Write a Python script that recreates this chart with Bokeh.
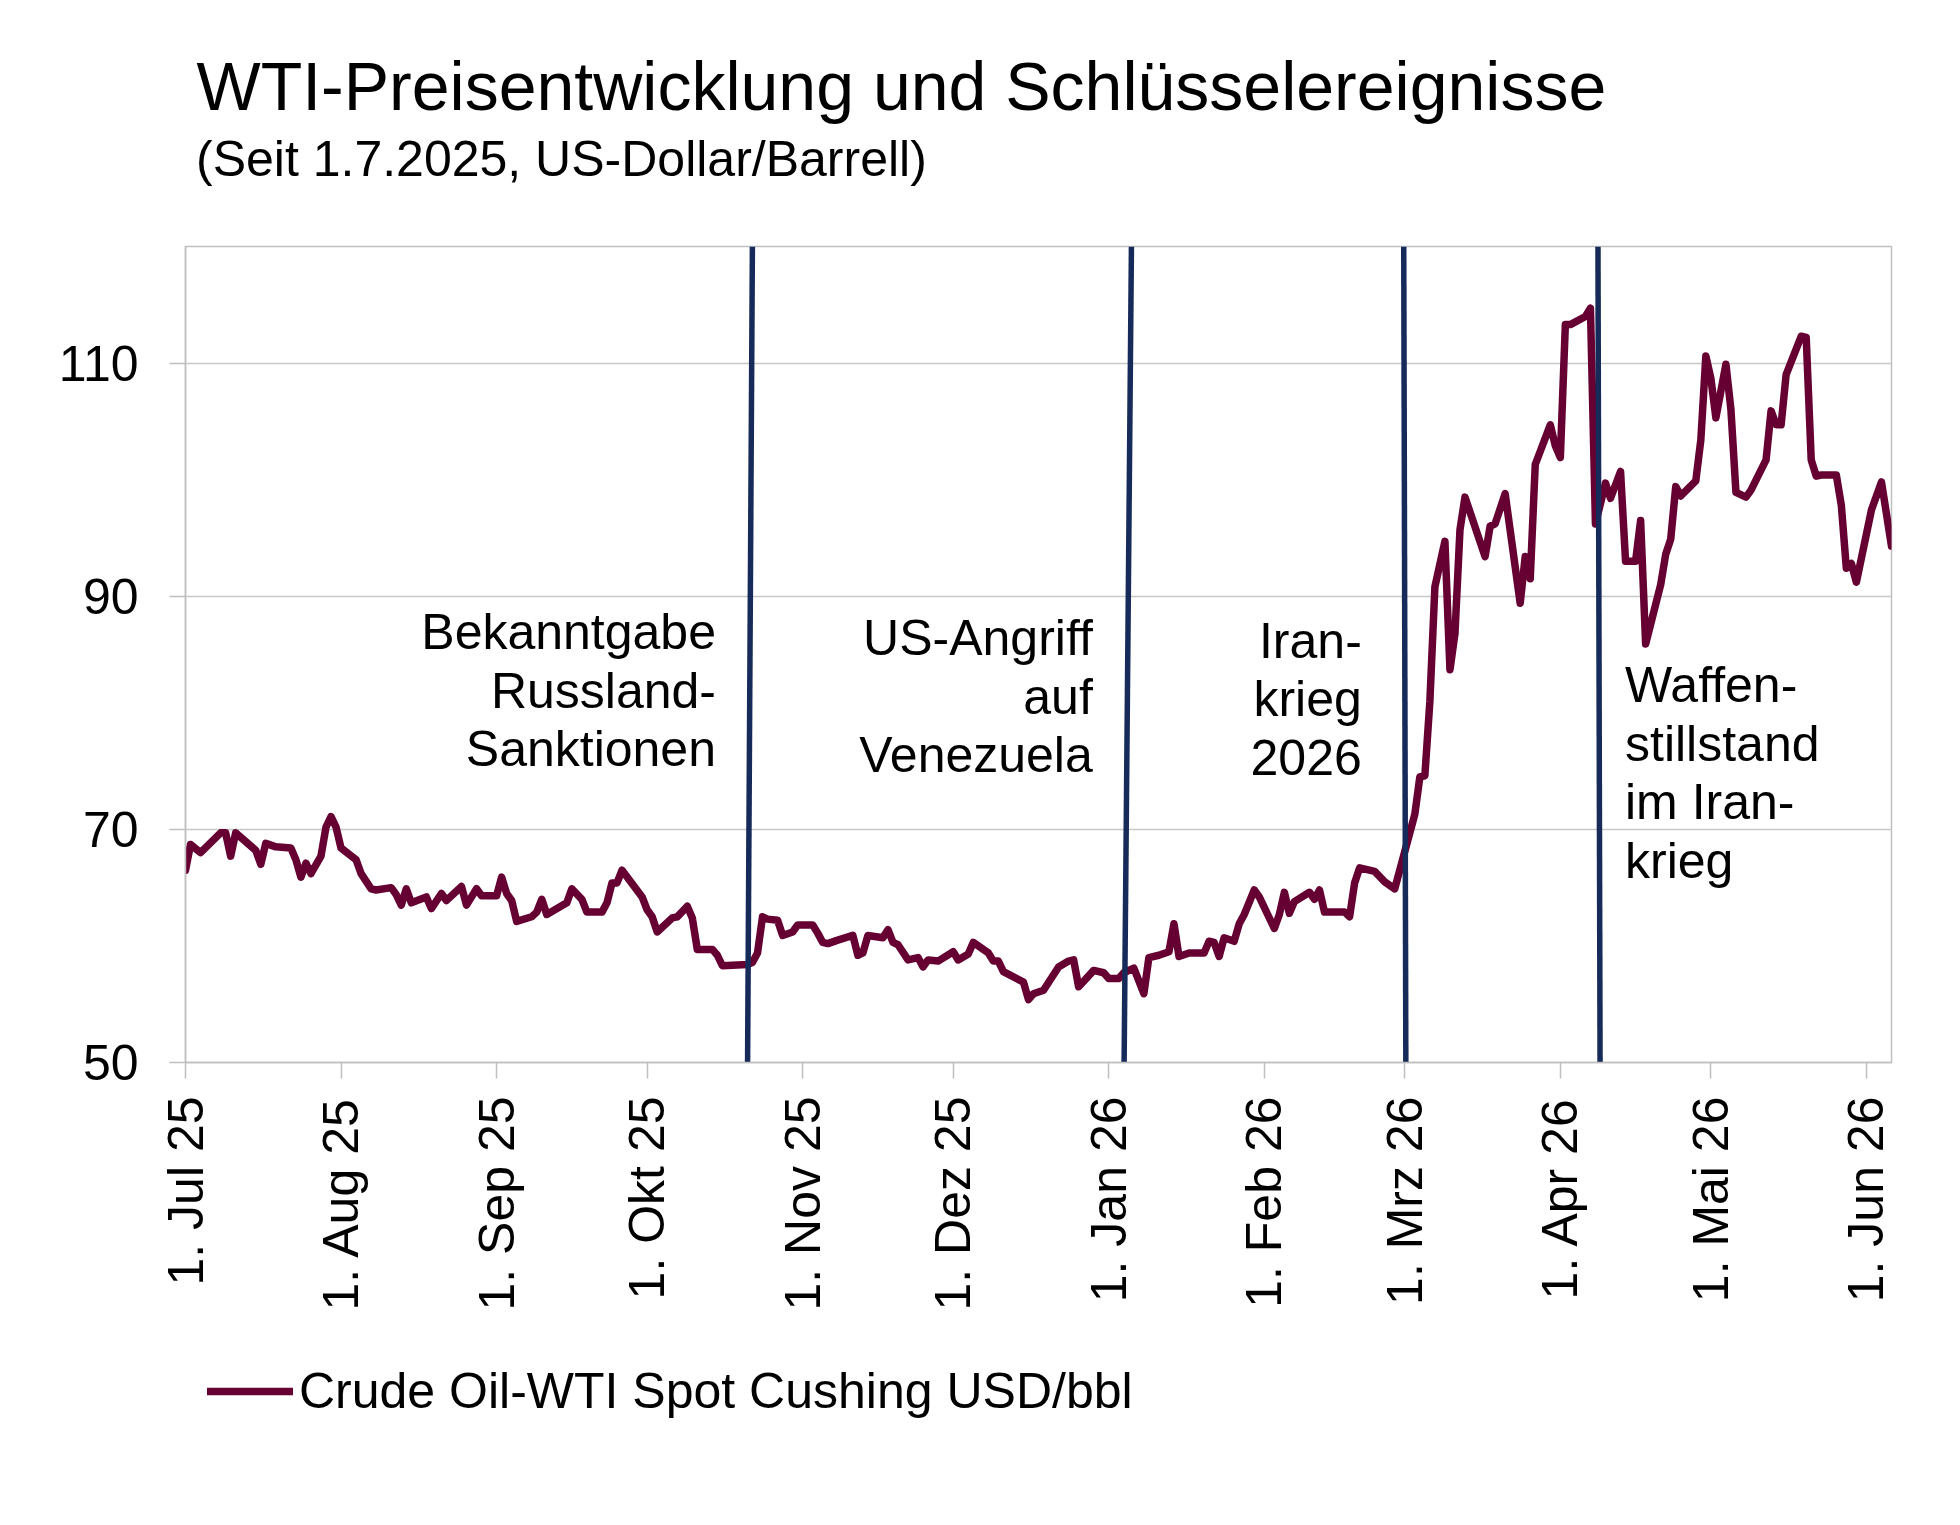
import datetime as dt
import math

from bokeh.embed import file_html
from bokeh.layouts import column
from bokeh.models import (ColumnDataSource, FixedTicker, Label, Legend,
                          LegendItem, Range1d, Title)
from bokeh.plotting import figure
from bokeh.resources import INLINE

# --- data -------------------------------------------------------------------
START = dt.datetime(2025, 7, 1)

# trading days, counted in calendar days since 1.7.2025
days_since_start = [
    0, 1, 3, 7, 8, 9, 10, 14, 15, 16, 18, 21, 22, 23, 24, 25, 27, 28, 29, 30,
    31, 34, 35, 37, 38, 41, 42, 43, 44, 45, 48, 49, 51, 52, 55, 56, 58, 59, 62, 63,
    64, 65, 66, 69, 70, 71, 72, 76, 77, 79, 80, 83, 84, 85, 86, 87, 91, 92, 93, 94,
    97, 98, 100, 101, 102, 105, 106, 107, 112, 113, 114, 115, 116, 118, 119, 121, 122, 125, 126, 127,
    128, 130, 133, 134, 135, 136, 139, 140, 141, 142, 144, 146, 147, 148, 150, 153, 154, 156, 157, 160,
    161, 162, 163, 167, 168, 169, 171, 174, 176, 177, 178, 181, 183, 184, 186, 187, 189, 191, 192, 194,
    196, 197, 198, 200, 203, 204, 205, 206, 207, 209, 210, 211, 213, 214, 217, 218, 219, 220, 221, 224,
    225, 226, 227, 231, 232, 233, 234, 237, 239, 241, 245, 246, 247, 248, 249, 251, 252, 253, 254, 255,
    259, 260, 261, 263, 266, 267, 268, 269, 272, 273, 274, 275, 276, 279, 280, 281, 283, 284, 286, 287,
    289, 290, 291, 294, 295, 296, 297, 298, 301, 302, 303, 304, 305, 307, 308, 309, 311, 312, 315, 316,
    317, 318, 319, 322, 323, 324, 325, 326, 329, 330, 331, 332, 333, 336, 338, 340,
]

# Crude Oil-WTI Spot Cushing, USD/bbl
wti_price = [
    66.5, 68.7, 68.0, 69.7, 69.7, 67.7, 69.7, 68.2, 67.0, 68.8, 68.5, 68.4, 67.4, 65.9, 67.1, 66.2, 67.7, 70.2, 71.1, 70.2,
    68.4, 67.4, 66.2, 64.9, 64.8, 65.0, 64.4, 63.5, 64.9, 63.7, 64.2, 63.2, 64.5, 63.9, 65.1, 63.5, 64.9, 64.3, 64.3, 65.9,
    64.5, 63.9, 62.1, 62.5, 62.9, 64.0, 62.7, 63.7, 64.9, 64.0, 62.9, 62.9, 63.7, 65.4, 65.4, 66.5, 64.2, 63.1, 62.5, 61.2,
    62.4, 62.5, 63.4, 62.4, 59.7, 59.7, 59.2, 58.3, 58.4, 58.6, 59.4, 62.5, 62.3, 62.2, 60.9, 61.2, 61.8, 61.8, 61.1, 60.3,
    60.2, 60.5, 60.9, 59.2, 59.4, 60.9, 60.7, 61.4, 60.3, 60.1, 58.8, 59.0, 58.2, 58.8, 58.7, 59.5, 58.8, 59.3, 60.3, 59.4,
    58.7, 58.7, 57.8, 56.9, 55.4, 55.9, 56.2, 58.2, 58.7, 58.8, 56.5, 57.9, 57.7, 57.2, 57.2, 57.7, 58.1, 55.9, 59.0, 59.2,
    59.5, 61.9, 59.1, 59.4, 59.4, 60.4, 60.3, 59.1, 60.7, 60.4, 61.9, 62.7, 64.8, 64.2, 61.5, 62.7, 64.6, 62.8, 63.8, 64.6,
    64.0, 64.8, 62.9, 62.9, 62.5, 65.4, 66.7, 66.4, 65.5, 64.9, 71.3, 74.5, 74.6, 81.0, 90.8, 94.7, 83.7, 86.8, 95.7, 98.5,
    93.4, 96.0, 96.2, 98.8, 89.4, 93.4, 91.5, 101.3, 104.7, 102.9, 101.9, 113.3, 113.3, 114.0, 114.7, 96.2, 99.7, 98.4, 100.7, 93.0,
    93.0, 96.5, 85.9, 91.0, 93.6, 94.9, 99.4, 98.6, 99.9, 103.4, 110.6, 108.7, 105.3, 109.9, 106.0, 98.9, 98.5, 99.1, 101.7, 105.9,
    104.7, 104.7, 109.0, 112.3, 112.2, 101.7, 100.3, 100.4, 100.4, 97.8, 92.4, 92.8, 91.2, 97.4, 99.8, 94.3,
]

tick_dates = [
    "2025-07-01", "2025-08-01", "2025-09-01", "2025-10-01", "2025-11-01", "2025-12-01",
    "2026-01-01", "2026-02-01", "2026-03-01", "2026-04-01", "2026-05-01", "2026-06-01",
]
tick_labels = [
    "1. Jul 25", "1. Aug 25", "1. Sep 25", "1. Okt 25", "1. Nov 25", "1. Dez 25",
    "1. Jan 26", "1. Feb 26", "1. Mrz 26", "1. Apr 26", "1. Mai 26", "1. Jun 26",
]
y_ticks = [50, 70, 90, 110]

# key events (hand-drawn marker lines lean slightly: top minus bottom, in hours)
event_dates = ["2025-10-21 12:00", "2026-01-04 19:00", "2026-03-01 00:00", "2026-04-08 17:00"]
event_lean_hours = [23, 35, -10, -10]
event_texts = [
    ["Bekanntgabe", "Russland-", "Sanktionen"],
    ["US-Angriff", "auf", "Venezuela"],
    ["Iran-", "krieg", "2026"],
    ["Waffen-", "stillstand", "im Iran-", "krieg"],
]

SERIES_NAME = "Crude Oil-WTI Spot Cushing USD/bbl"

# --- helpers ----------------------------------------------------------------
EPOCH = dt.datetime(1970, 1, 1)


def ms(d):
    return (d - EPOCH).total_seconds() * 1000.0


def parse(s):
    return dt.datetime.fromisoformat(s)


FONT = "Liberation Sans"
PRICE_COLOR = "#660033"
EVENT_COLOR = "#172b5a"
FRAME_GREY = "#bfbfbf"

Y_MIN, Y_MAX = 50, 120
X_END = START + dt.timedelta(days=340)

dates = [START + dt.timedelta(days=d) for d in days_since_start]
src = ColumnDataSource(data=dict(date=dates, price=wti_price))

# --- main chart ---------------------------------------------------------------
p = figure(
    width=1960, height=1340,
    x_axis_type="datetime",
    x_range=Range1d(ms(START), ms(X_END)),
    y_range=Range1d(Y_MIN, Y_MAX),
    output_backend="svg", toolbar_location=None,
    min_border_left=185, min_border_right=69,
    min_border_top=246, min_border_bottom=278,
    background_fill_color="white", border_fill_color="white",
)
p.outline_line_color = FRAME_GREY
p.outline_line_width = 1.5

# grid
p.xgrid.visible = False
p.ygrid.grid_line_color = "#c8c8c8"
p.ygrid.grid_line_width = 1.5

# y axis
p.yaxis.ticker = FixedTicker(ticks=y_ticks)
p.yaxis.axis_line_color = FRAME_GREY
p.yaxis.axis_line_width = 1.5
p.yaxis.major_tick_line_color = FRAME_GREY
p.yaxis.major_tick_line_width = 1.5
p.yaxis.major_tick_in = 0
p.yaxis.major_tick_out = 16
p.yaxis.minor_tick_line_color = None
p.yaxis.major_label_standoff = 31
p.yaxis.major_label_text_font = FONT
p.yaxis.major_label_text_font_size = "50px"
p.yaxis.major_label_text_color = "black"

# x axis: first of each month, German labels
tick_ms = [ms(parse(d)) for d in tick_dates]
p.xaxis.ticker = FixedTicker(ticks=tick_ms)
p.xaxis.major_label_overrides = {t: lab for t, lab in zip(tick_ms, tick_labels)}
p.xaxis.major_label_orientation = math.pi / 2
p.xaxis.axis_line_color = FRAME_GREY
p.xaxis.axis_line_width = 1.5
p.xaxis.major_tick_line_color = FRAME_GREY
p.xaxis.major_tick_line_width = 1.5
p.xaxis.major_tick_in = 0
p.xaxis.major_tick_out = 16
p.xaxis.minor_tick_line_color = None
p.xaxis.major_label_standoff = 18
p.xaxis.major_label_text_font = FONT
p.xaxis.major_label_text_font_size = "50px"
p.xaxis.major_label_text_color = "black"

# price series
line_style = dict(line_color=PRICE_COLOR, line_width=7.5, line_join="round", line_cap="round")
p.line(x="date", y="price", source=src, **line_style)

# event marker lines
ev_src = ColumnDataSource(data=dict(
    x0=[parse(d) - dt.timedelta(hours=h / 2) for d, h in zip(event_dates, event_lean_hours)],
    x1=[parse(d) + dt.timedelta(hours=h / 2) for d, h in zip(event_dates, event_lean_hours)],
    y0=[Y_MIN] * len(event_dates),
    y1=[Y_MAX] * len(event_dates),
))
p.segment(x0="x0", y0="y0", x1="x1", y1="y1", source=ev_src,
          line_color=EVENT_COLOR, line_width=5.5)

# event captions: (x offset from marker in px, price level of first line, alignment)
caption_layout = [(-34, 86.9, "right"), (-35, 86.4, "right"),
                  (-43, 86.2, "right"), (26, 82.35, "left")]
LINE_STEP = 58.5
for d, lines, (dx, y_first, align) in zip(event_dates, event_texts, caption_layout):
    for i, line in enumerate(lines):
        p.add_layout(Label(
            x=ms(parse(d)), y=y_first, x_offset=dx, y_offset=-i * LINE_STEP,
            text=line, text_align=align, text_baseline="middle",
            text_font=FONT, text_font_size="50px", text_color="black",
        ))

# header: blank gap above the frame, then subtitle, then the main title
p.add_layout(Title(text=" ", standoff=57, text_font_size="1px"), "above")
p.add_layout(Title(text="(Seit 1.7.2025, US-Dollar/Barrell)", align="left", offset=10.5,
                   standoff=0, text_font=FONT, text_font_size="50px",
                   text_font_style="normal", text_color="black"), "above")
p.add_layout(Title(text="WTI-Preisentwicklung und Schlüsselereignisse", align="left",
                   offset=11, standoff=9, text_font=FONT, text_font_size="68px",
                   text_font_style="normal", text_color="black"), "above")

# --- legend strip under the chart ----------------------------------------------
# the series is drawn again with a range that keeps it out of view; only its
# legend entry shows
leg = figure(
    width=1960, height=185,
    x_axis_type="datetime",
    x_range=Range1d(ms(START), ms(X_END)), y_range=Range1d(0, 1),
    x_axis_location=None, y_axis_location=None,
    output_backend="svg", toolbar_location=None,
    min_border_left=169, min_border_right=0, min_border_top=0, min_border_bottom=0,
    background_fill_color="white", border_fill_color="white",
)
leg.outline_line_color = None
leg.grid.visible = False
legend_line = leg.line(x="date", y="price", source=src, **line_style)

legend = Legend(
    items=[LegendItem(label=SERIES_NAME, renderers=[legend_line])],
    location="top_left", orientation="horizontal",
    glyph_width=86, glyph_height=40, label_standoff=6,
    padding=22, margin=0, spacing=0,
    border_line_alpha=0, background_fill_alpha=0,
    label_text_font=FONT, label_text_font_size="50px", label_text_color="black",
)
leg.add_layout(legend)

layout = column(p, leg, spacing=0)
open("out.html", "w").write(file_html(layout, INLINE))
